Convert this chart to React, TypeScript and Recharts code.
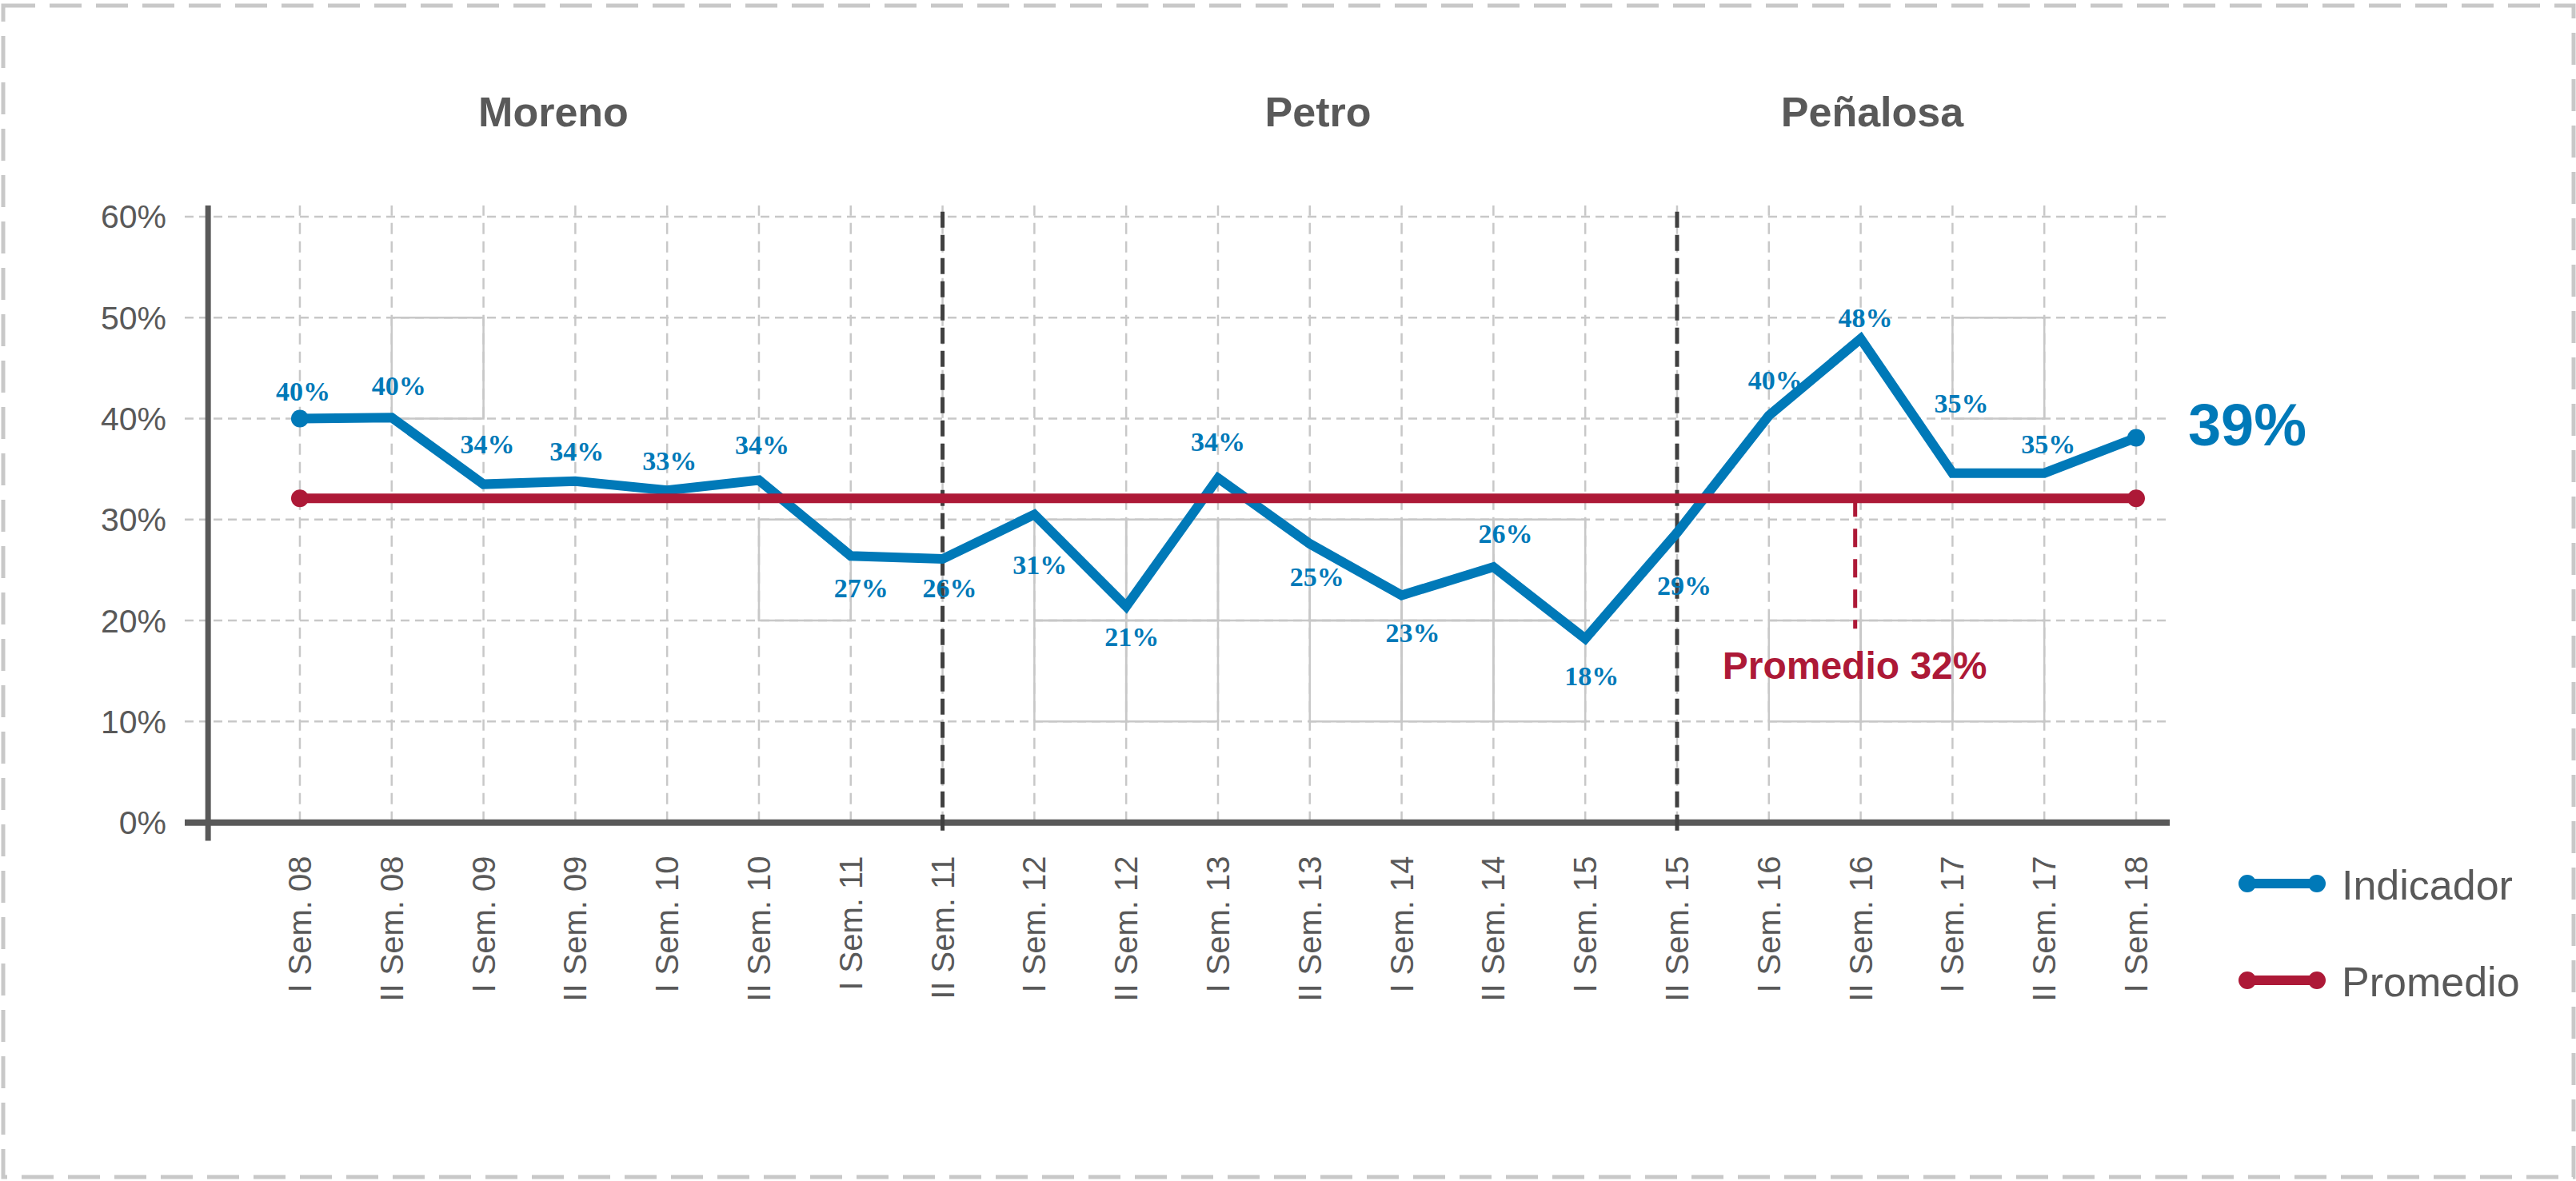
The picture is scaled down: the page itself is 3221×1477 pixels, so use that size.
import React from "react";
import {
  LineChart,
  Line,
  XAxis,
  YAxis,
  ReferenceLine,
  ReferenceArea,
  LabelList,
  Legend,
} from "recharts";

// datos
const categorias = [
  "I Sem. 08", "II Sem. 08", "I Sem. 09", "II Sem. 09", "I Sem. 10", "II Sem. 10",
  "I Sem. 11", "II Sem. 11", "I Sem. 12", "II Sem. 12", "I Sem. 13", "II Sem. 13",
  "I Sem. 14", "II Sem. 14", "I Sem. 15", "II Sem. 15", "I Sem. 16", "II Sem. 16",
  "I Sem. 17", "II Sem. 17", "I Sem. 18",
];
const indicador = [
  40.0, 40.1, 33.5, 33.8, 32.9, 33.9, 26.4, 26.1, 30.5, 21.4, 34.1,
  27.6, 22.5, 25.3, 18.2, 28.7, 40.3, 47.9, 34.6, 34.6, 38.1,
];
const etiquetas = [40, 40, 34, 34, 33, 34, 27, 26, 31, 21, 34, 25, 23, 26, 18, 29, 40, 48, 35, 35, 39];
const promedio = [
  32.1, 32.1, 32.1, 32.1, 32.1, 32.1, 32.1, 32.1, 32.1, 32.1, 32.1,
  32.1, 32.1, 32.1, 32.1, 32.1, 32.1, 32.1, 32.1, 32.1, 32.1,
];
const promedioTexto = 32;
const yTicks = [0, 10, 20, 30, 40, 50, 60];
const alcaldes = ["Moreno", "Petro", "Peñalosa"];
const cambiosGobierno = [7, 15];

const data = categorias.map((c, i) => ({ x: i, cat: c, indicador: indicador[i], promedio: promedio[i] }));

// layout
const AZUL = "#0079b8";
const ROJO = "#ad1937";
const GRIS = "#595959";
const GRID = "#c8c8c8";
const SANS = "'Liberation Sans', Arial, Helvetica, sans-serif";
const SERIF = "'Liberation Serif', 'Times New Roman', serif";

const labelDx = [4, 9, 5, 2, 3, 4, 13, 9, 7, 7, 0, 9, 14, 15, 8, 9, 8, 6, 11, 5];
const labelDy = [-22, -28, -39, -26, -25, -33, 52, 48, 75, 50, -34, 53, 58, -30, 58, 78, -33, -15, -76, -25];
const tituloX = [692, 1648, 2341];
const celdas = [
  [1, 2, 40, 50], [5, 6, 20, 30],
  [8, 9, 20, 30], [9, 10, 20, 30], [10, 11, 20, 30], [11, 12, 20, 30], [12, 13, 20, 30], [13, 14, 20, 30],
  [8, 9, 10, 20], [9, 10, 10, 20], [11, 12, 10, 20], [12, 13, 10, 20], [13, 14, 10, 20],
  [18, 19, 40, 50], [16, 17, 10, 20], [17, 18, 10, 20], [18, 19, 10, 20],
];

const XTick = (props: any) => {
  const { x, y, payload } = props;
  return (
    <text
      x={x}
      y={y}
      transform={`rotate(-90 ${x} ${y})`}
      textAnchor="end"
      dy="0.35em"
      fill={GRIS}
      fontSize={40}
      fontFamily={SANS}
    >
      {categorias[payload.value]}
    </text>
  );
};

const renderEtiqueta = (props: any) => {
  const x = props.x ?? props.viewBox?.x;
  const y = props.y ?? props.viewBox?.y;
  const i = props.index;
  if (i === indicador.length - 1) {
    return (
      <text key={`e${i}`} x={x + 65} y={y + 10} fill={AZUL} fontSize={74} fontWeight="bold" fontFamily={SANS}>
        {etiquetas[i]}%
      </text>
    );
  }
  return (
    <text
      key={`e${i}`}
      x={x + labelDx[i]}
      y={y + labelDy[i]}
      textAnchor="middle"
      fill={AZUL}
      fontSize={34}
      fontWeight="bold"
      fontFamily={SERIF}
    >
      {etiquetas[i]}%
    </text>
  );
};

const endDot = (color: string) => (props: any) => {
  const { cx, cy, index } = props;
  if (index === 0 || index === categorias.length - 1) {
    return <circle key={`d${index}`} cx={cx} cy={cy} r={11} fill={color} />;
  }
  return <g key={`d${index}`} />;
};

const renderLegend = (props: any) => {
  const items = props.payload || [];
  return (
    <svg width={420} height={200}>
      {items.map((it: any, k: number) => {
        const cy = 35 + k * 121;
        return (
          <g key={it.value}>
            <line x1={20} y1={cy} x2={107} y2={cy} stroke={it.color} strokeWidth={12} />
            <circle cx={20} cy={cy} r={11} fill={it.color} />
            <circle cx={107} cy={cy} r={11} fill={it.color} />
            <text x={138} y={cy + 20} fill={GRIS} fontSize={52} fontFamily={SANS}>
              {it.value}
            </text>
          </g>
        );
      })}
    </svg>
  );
};

export default function App() {
  return (
    <div style={{ position: "absolute", left: 0, top: 0, width: 3221, height: 1477, background: "#fff" }}>
      <LineChart
        width={3221}
        height={1477}
        data={data}
        margin={{ top: 257, right: 508, left: 0, bottom: 225.6 }}
      >
        <XAxis
          type="number"
          dataKey="x"
          domain={[-1.254, 20.366]}
          ticks={categorias.map((_, i) => i)}
          interval={0}
          allowDataOverflow
          axisLine={false}
          tickLine={false}
          tickSize={0}
          tickMargin={19}
          height={200}
          tick={<XTick />}
        />
        <YAxis
          domain={[-1.8, 61.1]}
          ticks={yTicks}
          allowDataOverflow
          width={231}
          axisLine={false}
          tickLine={false}
          tickSize={0}
          tickMargin={23}
          tickFormatter={(v: number) => `${v}%`}
          tick={{ fill: GRIS, fontSize: 41, fontFamily: SANS }}
        />
        {yTicks.slice(1).map((t) => (
          <ReferenceLine key={`hg${t}`} y={t} stroke={GRID} strokeWidth={2.5} strokeDasharray="11 7" />
        ))}
        {categorias.map((_, i) => (
          <ReferenceLine
            key={`vg${i}`}
            segment={[{ x: i, y: 0 }, { x: i, y: 61.1 }]}
            stroke={GRID}
            strokeWidth={2.5}
            strokeDasharray="14 9"
          />
        ))}
        {celdas.map(([x1, x2, y1, y2], k) => (
          <ReferenceArea key={`c${k}`} x1={x1} x2={x2} y1={y1} y2={y2} fill="none" fillOpacity={0} stroke={GRID} strokeWidth={2.5} />
        ))}
        <ReferenceLine segment={[{ x: -1, y: -1.8 }, { x: -1, y: 61.1 }]} stroke={GRIS} strokeWidth={7} />
        <ReferenceLine y={0} stroke={GRIS} strokeWidth={8} />
        {cambiosGobierno.map((c) => (
          <ReferenceLine
            key={`g${c}`}
            segment={[{ x: c, y: -0.8 }, { x: c, y: 61.1 }]}
            stroke="#404040"
            strokeWidth={5}
            strokeDasharray="20 9"
          />
        ))}
        <ReferenceLine
          segment={[{ x: 16.94, y: promedio[0] }, { x: 16.94, y: 19.2 }]}
          stroke={ROJO}
          strokeWidth={5}
          strokeDasharray="23 15"
          label={{
            content: (p: any) => {
              const vb = p.viewBox || {};
              return (
                <text
                  x={vb.x - 166}
                  y={vb.y + vb.height + 63}
                  fill={ROJO}
                  fontSize={48}
                  fontWeight="bold"
                  fontFamily={SANS}
                >
                  Promedio {promedioTexto}%
                </text>
              );
            },
          }}
        />
        <Line
          dataKey="indicador"
          name="Indicador"
          type="linear"
          stroke={AZUL}
          strokeWidth={12}
          dot={endDot(AZUL)}
          activeDot={false}
          isAnimationActive={false}
        >
          <LabelList dataKey="indicador" content={renderEtiqueta} />
        </Line>
        <Line
          dataKey="promedio"
          name="Promedio"
          type="linear"
          stroke={ROJO}
          strokeWidth={12}
          dot={endDot(ROJO)}
          activeDot={false}
          isAnimationActive={false}
        />
        <Legend
          layout="horizontal"
          verticalAlign="middle"
          align="center"
          content={renderLegend}
          wrapperStyle={{ left: 2790, top: 1070, width: 420, height: 200 }}
        />
      </LineChart>
      <svg
        width={3221}
        height={1477}
        style={{ position: "absolute", left: 0, top: 0, pointerEvents: "none" }}
      >
        <rect x={4} y={7} width={3214} height={1465} fill="none" stroke={GRID} strokeWidth={5} strokeDasharray="40 18" />
        {alcaldes.map((a, k) => (
          <text key={a} x={tituloX[k]} y={158} textAnchor="middle" fill={GRIS} fontSize={52} fontWeight="bold" fontFamily={SANS}>
            {a}
          </text>
        ))}
      </svg>
    </div>
  );
}
